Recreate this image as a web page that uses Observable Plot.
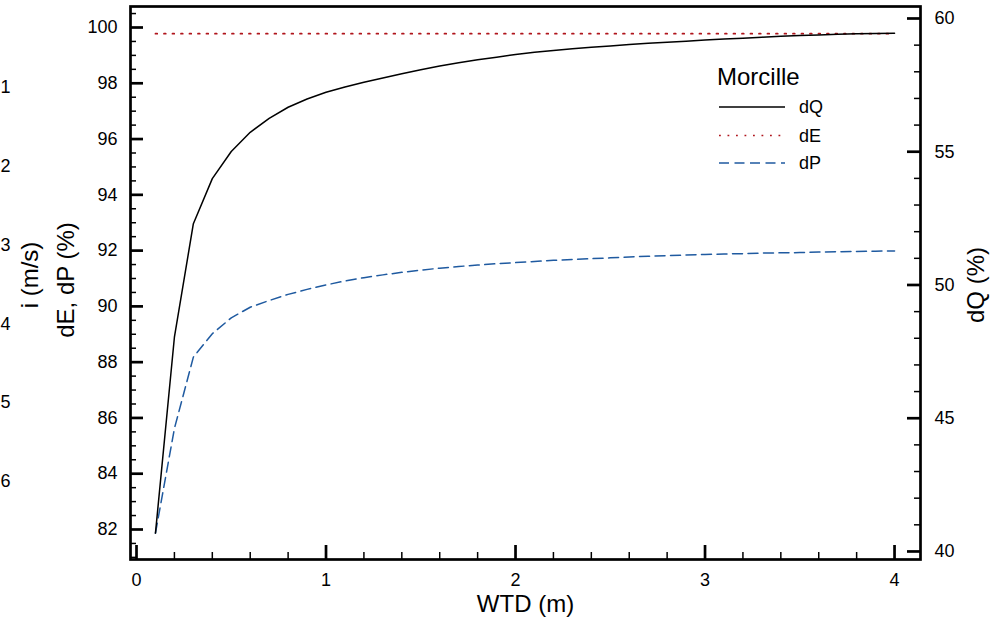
<!DOCTYPE html>
<html><head><meta charset="utf-8">
<script src="https://cdn.jsdelivr.net/npm/d3@7"></script>
<script src="https://cdn.jsdelivr.net/npm/@observablehq/plot@0.6"></script>
<style>
body{margin:0;background:#fff;}
#wrap{position:relative;width:990px;height:623px;font-family:"Liberation Sans",Arial,Helvetica,sans-serif;}
#legend{position:absolute;left:0;top:0;pointer-events:none;}
</style></head><body><div id="wrap"></div>
<script>
// ---- data ----
const wtd = [0.1,0.2,0.3,0.4,0.5,0.6,0.7,0.8,0.9,1.0,1.1,1.2,1.3,1.4,1.5,1.6,1.7,1.8,1.9,2.0,
             2.1,2.2,2.3,2.4,2.5,2.6,2.7,2.8,2.9,3.0,3.1,3.2,3.3,3.4,3.5,3.6,3.7,3.8,3.9,4.0];
// dQ (%) on the right axis
const dQ = [40.69,48.04,52.30,53.99,55.01,55.73,56.25,56.67,56.98,57.23,57.43,57.61,57.77,57.93,58.08,58.22,58.34,58.45,58.55,58.65,
            58.73,58.80,58.86,58.92,58.97,59.02,59.07,59.11,59.15,59.19,59.23,59.26,59.30,59.33,59.36,59.38,59.41,59.43,59.44,59.45];
// dE (%) on the left axis
const dE = [99.78,99.78,99.78,99.78,99.78,99.78,99.78,99.78,99.78,99.78,99.78,99.78,99.78,99.78,99.78,99.78,99.78,99.78,99.78,99.78,
            99.78,99.78,99.78,99.78,99.78,99.78,99.78,99.78,99.78,99.78,99.78,99.78,99.78,99.78,99.78,99.78,99.78,99.78,99.78,99.78];
// dP (%) on the left axis
const dP = [81.87,85.62,88.18,89.02,89.59,89.97,90.21,90.43,90.61,90.77,90.91,91.03,91.13,91.22,91.30,91.37,91.43,91.48,91.53,91.57,
            91.61,91.65,91.68,91.71,91.74,91.77,91.80,91.82,91.84,91.86,91.88,91.89,91.91,91.92,91.93,91.95,91.96,91.97,91.98,91.99];
const seriesNames = ["dQ","dE","dP"];
const legendTitle = "Morcille";
const xTicks = [0,1,2,3,4];
const yLeftTicks = [82,84,86,88,90,92,94,96,98,100];
const yRightTicks = [40,45,50,55,60];
const iTickLabels = ["1","2","3","4","5","6"];
const xTitle = "WTD (m)", yLeftTitle = "dE, dP (%)", yRightTitle = "dQ (%)", iTitle = "i (m/s)";

// ---- scales helpers ----
const toLeft = d3.scaleLinear([40,60],[81.212,100.323]);   // dQ axis -> left axis units
const iToLeft = d3.scaleLinear([1,6],[97.849,83.722]);      // cut-off i axis -> left axis units
const xMinor = d3.range(0.2,4.01,0.2).filter(v => Math.abs(v - Math.round(v)) > 1e-6);
const yLeftMinor = d3.range(81,100.6,0.5).filter(v => Math.abs(v/2 - Math.round(v/2)) > 1e-6);
const yRightMinor = d3.range(40,60.1,1).filter(v => v % 5 !== 0).map(toLeft);

const rows = wtd.map((x,k) => ({x, dQ: toLeft(dQ[k]), dE: dE[k], dP: dP[k]}));
const colors = {dQ:"#000000", dE:"#b0151c", dP:"#1f5aa0"};
const dashes = {dQ:null, dE:"1.8,6.7", dP:"10,5.5"};

const F = 18, T = 24;
const chart = Plot.plot({
  width: 990, height: 623,
  marginLeft: 130, marginRight: 70, marginTop: 6, marginBottom: 64,
  style: {fontFamily: '"Liberation Sans",Arial,Helvetica,sans-serif', fontSize: F + "px", color: "#000", background: "#fff"},
  x: {domain: [-0.0317, 4.137]},
  y: {domain: [80.924, 100.753]},
  marks: [
    Plot.line(rows, {x:"x", y:"dE", stroke: colors.dE, strokeWidth: 1.7, strokeDasharray: dashes.dE}),
    Plot.line(rows, {x:"x", y:"dP", stroke: colors.dP, strokeWidth: 1.5, strokeDasharray: dashes.dP}),
    Plot.line(rows, {x:"x", y:"dQ", stroke: colors.dQ, strokeWidth: 1.5}),
    // bottom axis (inward ticks)
    Plot.axisX(xTicks, {anchor:"bottom", tickSize:14, dy:-14, text:null, label:null, strokeWidth:2.7}),
    Plot.axisX(xMinor, {anchor:"bottom", tickSize:7, dy:-7, text:null, label:null, strokeWidth:1.5}),
    Plot.axisX(xTicks, {anchor:"bottom", tickSize:0, tickPadding:14, label:null, fontSize:F, tickFormat: d => String(d)}),
    // left axis
    Plot.axisY(yLeftTicks, {anchor:"left", tickSize:13, dx:13, text:null, label:null, strokeWidth:2.7}),
    Plot.axisY(yLeftMinor, {anchor:"left", tickSize:6, dx:6, text:null, label:null, strokeWidth:1.5}),
    Plot.axisY(yLeftTicks, {anchor:"left", tickSize:0, tickPadding:13, label:null, fontSize:F, tickFormat: d => String(d)}),
    // right axis (dQ)
    Plot.axisY(yRightTicks.map(toLeft), {anchor:"right", tickSize:14, dx:-14, text:null, label:null, strokeWidth:2.7}),
    Plot.axisY(yRightMinor, {anchor:"right", tickSize:7, dx:-7, text:null, label:null, strokeWidth:1.5}),
    Plot.axisY(yRightTicks.map(toLeft), {anchor:"right", tickSize:0, tickPadding:14, label:null, fontSize:F,
      tickFormat: d => String(Math.round(toLeft.invert(d)))}),
    // cut-off i axis labels at far left
    Plot.text(iTickLabels, {frameAnchor:"left", y: d => iToLeft(+d), text: d => d, dx:-120, textAnchor:"end", fontSize:F}),
    // titles
    Plot.text([xTitle], {frameAnchor:"bottom", dy:52, textAnchor:"middle", fontSize:T}),
    Plot.text([yLeftTitle], {frameAnchor:"left", dx:-64, dy:-3, rotate:-90, textAnchor:"middle", fontSize:T}),
    Plot.text([iTitle], {frameAnchor:"left", dx:-100, dy:-8, rotate:-90, textAnchor:"middle", fontSize:T}),
    Plot.text([yRightTitle], {frameAnchor:"right", dx:56, dy:2, rotate:-90, textAnchor:"middle", fontSize:T}),
    Plot.frame({stroke:"black", strokeWidth:2.7})
  ]
});
const wrap = document.getElementById("wrap");
wrap.appendChild(chart);

// legend overlay
const lg = d3.select(wrap).append("svg").attr("id","legend").attr("width",990).attr("height",623)
  .style("font-family",'"Liberation Sans",Arial,Helvetica,sans-serif');
lg.append("text").attr("x",717).attr("y",77).attr("dy","0.35em").attr("font-size",T).text(legendTitle);
const ly = [107,135.5,163];
seriesNames.forEach((s,k) => {
  lg.append("line").attr("x1",719).attr("x2",785).attr("y1",ly[k]).attr("y2",ly[k])
    .attr("stroke",colors[s]).attr("stroke-width",s==="dE"?1.7:1.5).attr("stroke-dasharray",dashes[s]);
  lg.append("text").attr("x",799).attr("y",ly[k]).attr("dy","0.35em").attr("font-size",F).text(s);
});
</script></body></html>
